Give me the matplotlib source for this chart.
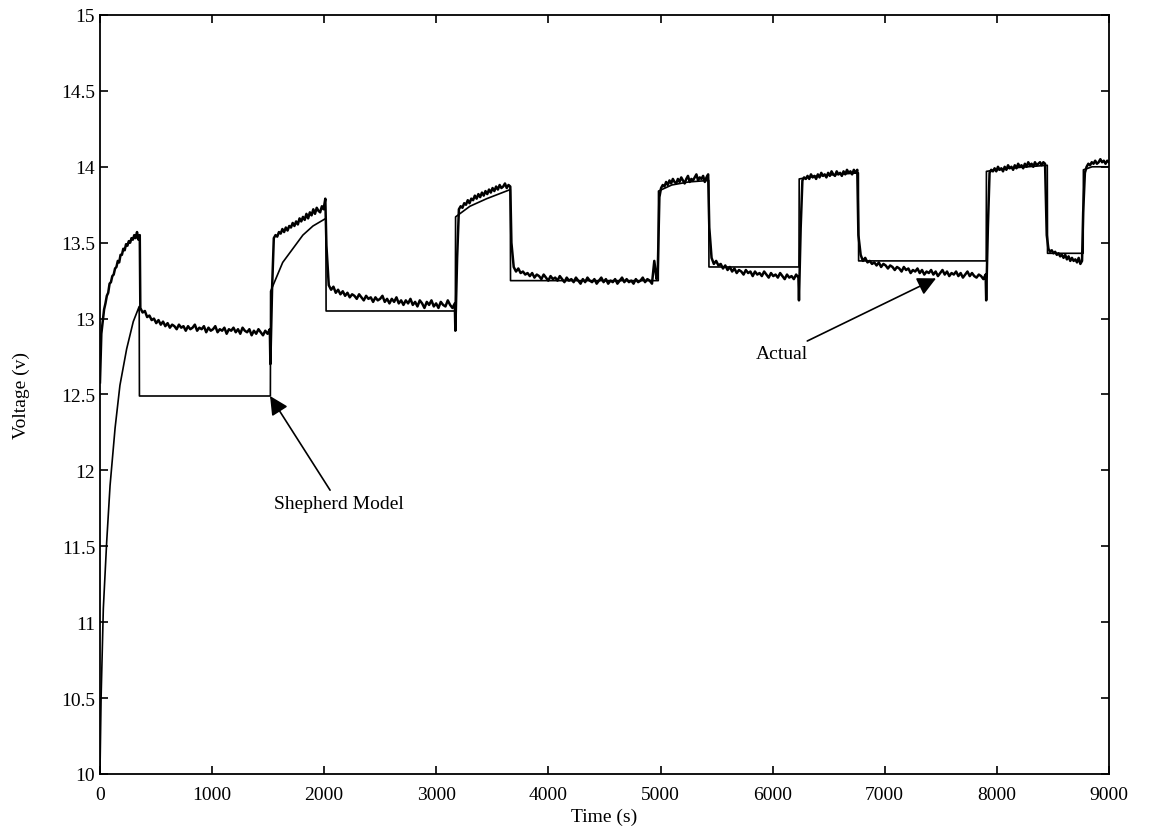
import numpy as np
import matplotlib
matplotlib.use("Agg")
import matplotlib.pyplot as plt
from matplotlib.ticker import FormatStrFormatter

plt.rcParams['font.family'] = ['Liberation Serif', 'DejaVu Serif']

# measured terminal voltage, one block per charge / rest period: (t_start, t_end, samples)
actual_blocks = [
    (0, 355, [12.58, 12.90, 12.98, 13.06, 13.10, 13.15, 13.17, 13.23, 13.24, 13.28,
              13.29, 13.33, 13.34, 13.38, 13.37, 13.42, 13.42, 13.46, 13.45, 13.49,
              13.48, 13.51, 13.50, 13.53, 13.52, 13.55, 13.53, 13.57, 13.52, 13.55]),
    (360, 1515, [13.07, 13.04, 13.05, 13.01, 13.02, 12.99, 13.0, 12.97, 12.99, 12.96,
                 12.98, 12.95, 12.97, 12.94, 12.96, 12.95, 12.93, 12.96, 12.94, 12.95,
                 12.92, 12.95, 12.93, 12.94, 12.96, 12.92, 12.94, 12.93, 12.95, 12.91,
                 12.94, 12.92, 12.93, 12.95, 12.91, 12.93, 12.92, 12.94, 12.90, 12.93,
                 12.92, 12.94, 12.91, 12.93, 12.90, 12.94, 12.92, 12.91, 12.93, 12.89,
                 12.92, 12.90, 12.93, 12.91, 12.89, 12.92, 12.90, 12.93]),
    (1520, 2010, [12.70, 13.20, 13.53, 13.55, 13.54, 13.57, 13.56, 13.59, 13.57, 13.60,
                  13.58, 13.61, 13.60, 13.63, 13.61, 13.64, 13.62, 13.66, 13.64, 13.67,
                  13.65, 13.69, 13.66, 13.70, 13.68, 13.72, 13.69, 13.73, 13.71, 13.70,
                  13.74, 13.72, 13.79]),
    (2020, 3165, [13.48, 13.22, 13.19, 13.21, 13.17, 13.19, 13.16, 13.18, 13.15, 13.17,
                  13.14, 13.16, 13.15, 13.13, 13.16, 13.14, 13.12, 13.15, 13.13, 13.14,
                  13.11, 13.14, 13.12, 13.13, 13.15, 13.11, 13.13, 13.10, 13.13, 13.11,
                  13.14, 13.10, 13.12, 13.09, 13.12, 13.10, 13.13, 13.09, 13.11, 13.08,
                  13.12, 13.10, 13.07, 13.11, 13.09, 13.12, 13.08, 13.10, 13.07, 13.11,
                  13.09, 13.08, 13.12, 13.09, 13.07, 13.10]),
    (3170, 3660, [12.92, 13.40, 13.72, 13.74, 13.73, 13.76, 13.75, 13.78, 13.76, 13.79,
                  13.78, 13.81, 13.79, 13.82, 13.80, 13.83, 13.81, 13.84, 13.82, 13.85,
                  13.83, 13.86, 13.84, 13.87, 13.85, 13.88, 13.86, 13.87, 13.89, 13.86,
                  13.88, 13.87]),
    (3670, 4965, [13.50, 13.34, 13.31, 13.33, 13.30, 13.31, 13.29, 13.30, 13.28, 13.30,
                  13.27, 13.29, 13.28, 13.26, 13.29, 13.27, 13.25, 13.28, 13.26, 13.27,
                  13.25, 13.28, 13.26, 13.24, 13.27, 13.25, 13.26, 13.24, 13.27, 13.25,
                  13.23, 13.26, 13.24, 13.27, 13.25, 13.24, 13.26, 13.23, 13.25, 13.27,
                  13.24, 13.26, 13.23, 13.25, 13.24, 13.26, 13.23, 13.25, 13.27, 13.24,
                  13.26, 13.24, 13.25, 13.23, 13.26, 13.24, 13.25, 13.27, 13.24, 13.26,
                  13.25, 13.23, 13.38, 13.26]),
    (4975, 5425, [13.30, 13.80, 13.86, 13.88, 13.87, 13.90, 13.88, 13.91, 13.89, 13.92,
                  13.90, 13.89, 13.92, 13.90, 13.93, 13.91, 13.89, 13.92, 13.94, 13.90,
                  13.92, 13.91, 13.93, 13.95, 13.91, 13.93, 13.92, 13.94, 13.90, 13.93,
                  13.95]),
    (5435, 6230, [13.60, 13.40, 13.36, 13.38, 13.35, 13.36, 13.33, 13.35, 13.32, 13.34,
                  13.31, 13.33, 13.30, 13.32, 13.31, 13.29, 13.32, 13.30, 13.31, 13.28,
                  13.31, 13.29, 13.30, 13.28, 13.31, 13.29, 13.27, 13.30, 13.28, 13.29,
                  13.27, 13.30, 13.28, 13.26, 13.29, 13.27, 13.28, 13.26, 13.29, 13.27]),
    (6235, 6755, [13.12, 13.60, 13.91, 13.93, 13.92, 13.94, 13.92, 13.95, 13.93, 13.94,
                  13.92, 13.95, 13.93, 13.96, 13.94, 13.95, 13.93, 13.96, 13.94, 13.97,
                  13.95, 13.94, 13.97, 13.95, 13.96, 13.94, 13.97, 13.95, 13.98, 13.96,
                  13.97, 13.95, 13.98, 13.96, 13.98]),
    (6765, 7900, [13.55, 13.42, 13.38, 13.40, 13.37, 13.38, 13.36, 13.37, 13.35, 13.37,
                  13.34, 13.36, 13.35, 13.33, 13.35, 13.34, 13.32, 13.34, 13.33, 13.31,
                  13.34, 13.32, 13.33, 13.30, 13.32, 13.31, 13.33, 13.30, 13.32, 13.29,
                  13.31, 13.30, 13.32, 13.29, 13.31, 13.28, 13.30, 13.32, 13.29, 13.31,
                  13.28, 13.30, 13.29, 13.31, 13.28, 13.30, 13.27, 13.29, 13.31, 13.28,
                  13.30, 13.28, 13.27, 13.29, 13.28, 13.26, 13.29]),
    (7905, 8430, [13.12, 13.60, 13.96, 13.98, 13.97, 13.99, 13.97, 14.00, 13.98, 13.99,
                  13.97, 14.00, 13.98, 14.01, 13.99, 14.00, 13.98, 14.01, 13.99, 14.02,
                  14.00, 14.01, 13.99, 14.02, 14.00, 14.03, 14.01, 14.02, 14.00, 14.03,
                  14.01, 14.02, 14.03, 14.01, 14.03, 14.02]),
    (8445, 8760, [13.55, 13.46, 13.44, 13.45, 13.43, 13.44, 13.42, 13.43, 13.41, 13.42,
                  13.40, 13.42, 13.39, 13.41, 13.38, 13.40, 13.38, 13.39, 13.37, 13.40,
                  13.36, 13.38]),
    (8770, 9000, [13.70, 13.96, 14.00, 14.02, 14.01, 14.03, 14.02, 14.04, 14.02, 14.03,
                  14.05, 14.03, 14.04, 14.02, 14.04, 14.03]),
]

# Shepherd model output
model_t = [0, 10, 30, 60, 90, 135, 178, 238, 297, 350,
           352, 1520,
           1522, 1630, 1720, 1810, 1900, 2015,
           2017, 3170,
           3172, 3300, 3450, 3660,
           3662, 4980,
           4982, 5100, 5250, 5430,
           5432, 6235,
           6237, 6400, 6765,
           6767, 7905,
           7907, 8100, 8450,
           8452, 8770,
           8772, 8850, 9000]
model_v = [10.0, 10.5, 11.09, 11.53, 11.9, 12.28, 12.56, 12.8, 12.98, 13.08,
           12.49, 12.49,
           13.18, 13.37, 13.46, 13.55, 13.61, 13.66,
           13.05, 13.05,
           13.67, 13.74, 13.79, 13.85,
           13.25, 13.25,
           13.84, 13.88, 13.9, 13.91,
           13.34, 13.34,
           13.92, 13.94, 13.96,
           13.38, 13.38,
           13.97, 13.99, 14.01,
           13.43, 13.43,
           13.98, 14.0, 14.0]

actual_t = np.concatenate([np.linspace(a, b, len(v)) for a, b, v in actual_blocks])
actual_v = np.concatenate([v for a, b, v in actual_blocks])

fig = plt.figure(figsize=(11.53, 8.37), dpi=100)
ax = fig.add_axes([0.0867, 0.0741, 0.8751, 0.9068])

ax.plot(actual_t, actual_v, color='k', lw=1.8)
ax.plot(model_t, model_v, color='k', lw=1.2)

ax.set_xlim(0, 9000)
ax.set_ylim(10, 15)
ax.set_xticks(np.arange(0, 9001, 1000))
ax.set_yticks(np.arange(10, 15.01, 0.5))
ax.yaxis.set_major_formatter(FormatStrFormatter('%g'))
ax.tick_params(direction='in', top=True, right=True, length=6, width=1.2,
               labelsize=14)
ax.tick_params(axis='x', pad=9)
for s in ax.spines.values():
    s.set_linewidth(1.3)

ax.set_xlabel('Time (s)', fontsize=14, labelpad=3)
ax.set_ylabel('Voltage (v)', fontsize=14, labelpad=22)

arrow = dict(arrowstyle='-|>', mutation_scale=28, color='k', lw=1.2,
             shrinkA=2, shrinkB=0)
ax.annotate('Shepherd Model', xy=(1517, 12.49), xytext=(2130, 11.78),
            ha='center', va='center', fontsize=14, arrowprops=arrow)
ax.annotate('Actual', xy=(7458, 13.265), xytext=(6080, 12.77),
            ha='center', va='center', fontsize=14, arrowprops=arrow)

fig.savefig('out.png', dpi=100)
